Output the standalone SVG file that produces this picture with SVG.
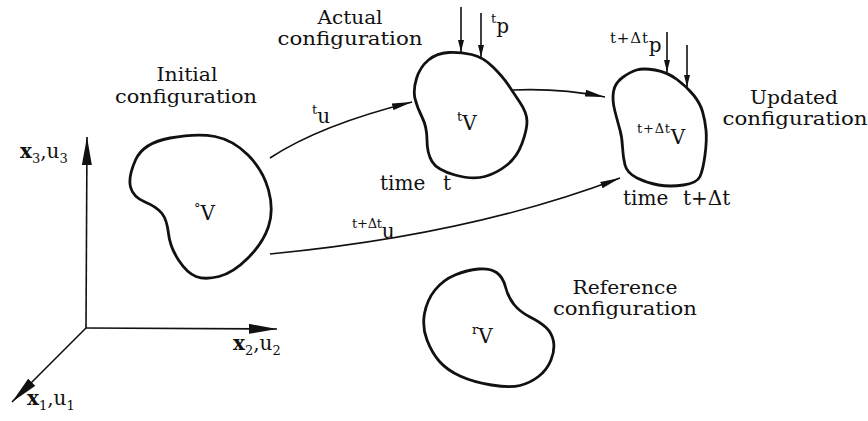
<svg xmlns="http://www.w3.org/2000/svg" width="868" height="421" viewBox="0 0 868 421">
<style>
text{font-family:"DejaVu Serif","Liberation Serif",serif;fill:#111;font-size:20px}
.c{text-anchor:middle}
.h{font-size:18px}
.s{font-size:13px}
.blob{fill:none;stroke:#111;stroke-width:2.8;stroke-linejoin:round}
.ln{fill:none;stroke:#111;stroke-width:1.6}
.ax{fill:none;stroke:#111;stroke-width:1.6}
.b{font-weight:bold}
</style>
<defs>
<marker id="ah" viewBox="0 0 20 8" refX="20" refY="4" markerWidth="20" markerHeight="8" markerUnits="userSpaceOnUse" orient="auto"><path d="M0,0.6 L20,4 L0,7.4 Z" fill="#111"/></marker>
<marker id="axh" viewBox="0 0 28 10" refX="28" refY="5" markerWidth="28" markerHeight="10" markerUnits="userSpaceOnUse" orient="auto"><path d="M0,0 L28,5 L0,10 Z" fill="#111"/></marker>
<marker id="fh" viewBox="0 0 12 6" refX="12" refY="3" markerWidth="12" markerHeight="6" markerUnits="userSpaceOnUse" orient="auto"><path d="M0,0 L12,3 L0,6 Z" fill="#111"/></marker>
</defs>
<rect width="868" height="421" fill="#fff"/>

<g id="axes">
<path class="ax" d="M86,328 L87,137" marker-end="url(#axh)"/>
<path class="ax" d="M86,328 L277,329" marker-end="url(#axh)"/>
<path class="ax" d="M86,328 L12,402" marker-end="url(#axh)"/>
<text x="20" y="158"><tspan class="b">x</tspan><tspan class="s" dy="5">3</tspan><tspan dy="-5">,u</tspan><tspan class="s" dy="5">3</tspan></text>
<text x="233" y="350"><tspan class="b">x</tspan><tspan class="s" dy="5">2</tspan><tspan dy="-5">,u</tspan><tspan class="s" dy="5">2</tspan></text>
<text x="27" y="405"><tspan class="b">x</tspan><tspan class="s" dy="5">1</tspan><tspan dy="-5">,u</tspan><tspan class="s" dy="5">1</tspan></text>
</g>

<g id="initial">
<path class="blob" d="M215,136.5 Q233,140 248,155 Q263,170 268.5,190 Q274,210 268.5,226.5 Q263,243 248,258 Q233,273 219,276.5 Q205,280 196,276.5 Q187,273 178.5,260 Q170,247 168.5,233.5 Q167,220 162,213.5 Q157,207 145,202 Q133,197 130.5,187 Q128,177 135.5,160 Q143,143 170,138 Q197,133 215,136.5 Z"/>
<text x="194" y="220"><tspan class="s" dy="-7">°</tspan><tspan dy="7">V</tspan></text>
<text class="c h" x="187" y="81" textLength="61" lengthAdjust="spacingAndGlyphs">Initial</text>
<text class="c h" x="186" y="103" textLength="142" lengthAdjust="spacingAndGlyphs">configuration</text>
</g>

<g id="actual">
<path class="blob" d="M471.5,54.5 Q483,57 493,67 Q503,77 508,84.5 Q513,92 520,102.5 Q527,113 527,121.5 Q527,130 522,143.5 Q517,157 507,165 Q497,173 485,176.5 Q473,180 455,175 Q437,170 432,161.5 Q427,153 427,140 Q427,127 422,117 Q417,107 415,98.5 Q413,90 416.5,78.5 Q420,67 428.5,60 Q437,53 448.5,52.5 Q460,52 471.5,54.5 Z"/>
<text x="457" y="130"><tspan class="s" dy="-9">t</tspan><tspan dy="9">V</tspan></text>
<text class="c h" x="350" y="24" textLength="65" lengthAdjust="spacingAndGlyphs">Actual</text>
<text class="c h" x="350" y="45" textLength="145" lengthAdjust="spacingAndGlyphs">configuration</text>
<path class="ln" d="M461,7 L461,52" marker-end="url(#fh)"/>
<path class="ln" d="M481,13 L481,57" marker-end="url(#fh)"/>
<text x="491" y="33"><tspan class="s" dy="-10">t</tspan><tspan dy="10">p</tspan></text>
<text x="380" y="190">time</text>
<text x="443" y="190">t</text>
</g>

<g id="updated">
<path class="blob" d="M655,70 Q667,72 677,79.5 Q687,87 693.5,95 Q700,103 702.5,111.5 Q705,120 706,130 Q707,140 705,155 Q703,170 700,176.5 Q697,183 683.5,185 Q670,187 658.5,185 Q647,183 637,178 Q627,173 625,165 Q623,157 622.5,147 Q622,137 620,130 Q618,123 615,111.5 Q612,100 613.5,91.5 Q615,83 622.5,77.5 Q630,72 636.5,70 Q643,68 655,70 Z"/>
<text x="637" y="144"><tspan class="s" dy="-11" textLength="33">t+Δt</tspan><tspan dy="11">V</tspan></text>
<text class="c h" x="794" y="104" textLength="88" lengthAdjust="spacingAndGlyphs">Updated</text>
<text class="c h" x="795" y="125" textLength="145" lengthAdjust="spacingAndGlyphs">configuration</text>
<path class="ln" d="M667,32 L667,72" marker-end="url(#fh)"/>
<path class="ln" d="M687,45 L687,87" marker-end="url(#fh)"/>
<text x="610" y="52"><tspan style="font-size:15px" dy="-9" textLength="38">t+Δt</tspan><tspan dy="9">p</tspan></text>
<text x="623" y="205">time</text>
<text x="683" y="205">t+Δt</text>
</g>

<g id="reference">
<path class="blob" d="M496.5,272.5 Q503,277 505.5,287 Q508,297 514,304.5 Q520,312 530,317 Q540,322 546,327.5 Q552,333 553.5,341.5 Q555,350 551,360 Q547,370 538.5,376.5 Q530,383 520,385.5 Q510,388 491.5,385 Q473,382 460,376 Q447,370 439.5,361.5 Q432,353 427,340 Q422,327 424.5,313.5 Q427,300 435,290 Q443,280 455,275 Q467,270 478.5,269 Q490,268 496.5,272.5 Z"/>
<text x="472" y="343"><tspan class="s" dy="-9">r</tspan><tspan dy="9">V</tspan></text>
<text class="c h" x="625" y="294" textLength="105" lengthAdjust="spacingAndGlyphs">Reference</text>
<text class="c h" x="625" y="315" textLength="144" lengthAdjust="spacingAndGlyphs">configuration</text>
</g>

<g id="connectors">
<path class="ln" d="M270,158 Q320,125 412,102" marker-end="url(#ah)"/>
<text x="312" y="123"><tspan class="s" dy="-9">t</tspan><tspan dy="9">u</tspan></text>
<path class="ln" d="M513,90 Q560,88 605,97" marker-end="url(#ah)"/>
<path class="ln" d="M270,254 Q470,235 620,178" marker-end="url(#ah)"/>
<text x="352" y="238"><tspan class="s" dy="-10" textLength="30">t+Δt</tspan><tspan dy="10">u</tspan></text>
</g>
</svg>
